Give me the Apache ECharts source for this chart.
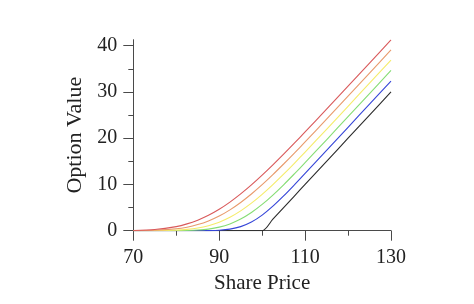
<!DOCTYPE html>
<html>
<head>
<meta charset="utf-8">
<script src="https://cdn.jsdelivr.net/npm/echarts@6/dist/echarts.min.js"></script>
<style>html,body{margin:0;padding:0;background:#fff}#c{width:474px;height:304px}</style>
</head>
<body>
<div id="c"></div>
<script>
var sharePrice = [70, 75, 80, 82.5, 85, 87.5, 90, 92.5, 95, 97.5, 100, 102.5, 105, 107.5, 110, 115, 120, 125, 130];
var redValues    = [0.05, 0.26, 0.89, 1.47, 2.28, 3.33, 4.63, 6.18, 7.95, 9.90, 12.01, 14.23, 16.55, 18.93, 21.35, 26.27, 31.25, 36.24, 41.24];
var orangeValues = [0.01, 0.09, 0.41, 0.76, 1.32, 2.11, 3.17, 4.51, 6.11, 7.94, 9.96, 12.13, 14.42, 16.78, 19.20, 24.12, 29.10, 34.09, 39.09];
var yellowValues = [0, 0.01, 0.12, 0.28, 0.58, 1.09, 1.85, 2.91, 4.29, 5.95, 7.86, 9.97, 12.22, 14.57, 16.99, 21.92, 26.90, 31.90, 36.90];
var greenValues  = [0, 0, 0.01, 0.05, 0.14, 0.35, 0.77, 1.47, 2.51, 3.93, 5.68, 7.71, 9.93, 12.29, 14.71, 19.66, 24.66, 29.66, 34.65];
var blueValues   = [0, 0, 0, 0, 0, 0.02, 0.10, 0.34, 0.88, 1.87, 3.37, 5.30, 7.52, 9.91, 12.37, 17.36, 22.36, 27.36, 32.36];
var payoffValues = [0, 0, 0, 0, 0, 0, 0, 0, 0, 0, 0, 2.5, 5, 7.5, 10, 15, 20, 25, 30];

var xLabelTicks = [70, 90, 110, 130];
var xMinorTicks = [80, 100, 120];
var yLabelTicks = [0, 10, 20, 30, 40];
var yMinorTicks = [5, 15, 25, 35];

function pairs(vals) { return sharePrice.map(function (s, i) { return [s, vals[i]]; }); }

var axisColor = '#4a4a4a';
var font = 'Liberation Serif';
var chart = echarts.init(document.getElementById('c'), null, {renderer: 'canvas'});

function mkSeries(vals, color, z) {
  return {type: 'line', data: pairs(vals), showSymbol: false, symbol: 'none', smooth: 0.3,
    lineStyle: {color: color, width: 1.1}, z: z, silent: true, animation: false};
}

chart.setOption({
  animation: false,
  grid: {left: 133.3, right: 83, top: 39.7, bottom: 73.3},
  xAxis: [{
    type: 'value', min: 70, max: 130, position: 'bottom',
    axisLine: {show: true, lineStyle: {color: axisColor, width: 1}},
    axisTick: {show: true, length: 10, customValues: xLabelTicks, lineStyle: {color: axisColor}},
    axisLabel: {customValues: xLabelTicks, margin: 17, fontFamily: font, fontSize: 20, color: '#222'},
    splitLine: {show: false},
    name: 'Share Price', nameLocation: 'middle', nameGap: 37,
    nameTextStyle: {fontFamily: font, fontSize: 21, color: '#222'}
  }, {
    type: 'value', min: 70, max: 130, position: 'bottom', offset: 0,
    axisLine: {show: false},
    axisTick: {show: true, length: 5, customValues: xMinorTicks, lineStyle: {color: axisColor}},
    axisLabel: {show: false}, splitLine: {show: false}
  }],
  yAxis: [{
    type: 'value', min: 0, max: 41.3, position: 'left',
    axisLine: {show: true, lineStyle: {color: axisColor, width: 1}},
    axisTick: {show: true, length: 10, customValues: yLabelTicks, lineStyle: {color: axisColor}},
    axisLabel: {customValues: yLabelTicks, margin: 16, fontFamily: font, fontSize: 20, color: '#222'},
    splitLine: {show: false},
    name: 'Option Value', nameLocation: 'middle', nameGap: 37,
    nameTextStyle: {fontFamily: font, fontSize: 22, color: '#222'}
  }, {
    type: 'value', min: 0, max: 41.3, position: 'left', offset: 0,
    axisLine: {show: false},
    axisTick: {show: true, length: 5, customValues: yMinorTicks, lineStyle: {color: axisColor}},
    axisLabel: {show: false}, splitLine: {show: false}
  }],
  series: [
    mkSeries(payoffValues, '#2b2b2b', 2),
    mkSeries(blueValues, '#3545d8', 3),
    mkSeries(greenValues, '#86dd74', 4),
    mkSeries(yellowValues, '#f5ec6a', 5),
    mkSeries(orangeValues, '#e89a6c', 6),
    mkSeries(redValues, '#d9595a', 7)
  ]
});
</script>
</body>
</html>
